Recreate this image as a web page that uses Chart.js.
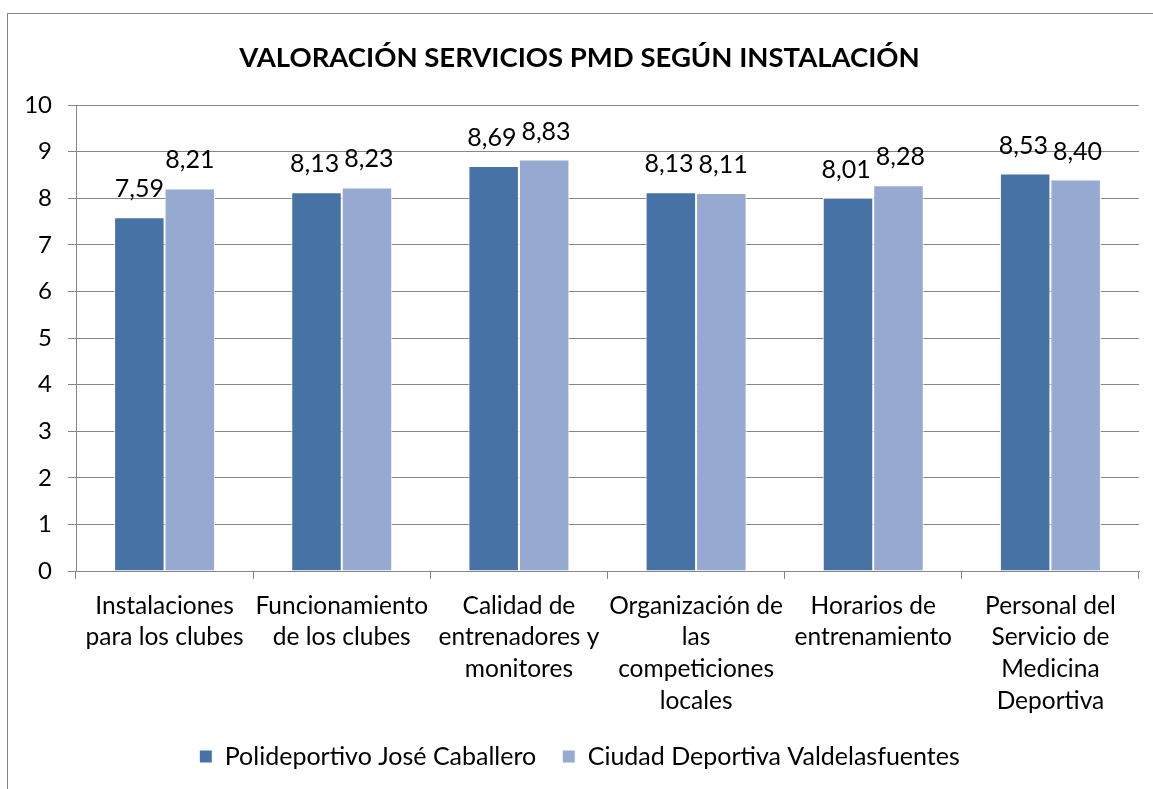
<!DOCTYPE html>
<html>
<head>
<meta charset="utf-8">
<script src="https://cdn.jsdelivr.net/npm/chart.js@4"></script>
<style>
  html, body { margin: 0; padding: 0; background: #fff; }
  #wrap { position: absolute; left: 0; top: 0; width: 1153px; height: 789px; }
</style>
</head>
<body>
<div id="wrap"><canvas id="chart" width="1153" height="789"></canvas></div>
<script>
var TITLE = 'VALORACIÓN SERVICIOS PMD SEGÚN INSTALACIÓN';
var CATEGORIES = [
  ['Instalaciones', 'para los clubes'],
  ['Funcionamiento', 'de los clubes'],
  ['Calidad de', 'entrenadores y', 'monitores'],
  ['Organización de', 'las', 'competiciones', 'locales'],
  ['Horarios de', 'entrenamiento'],
  ['Personal del', 'Servicio de', 'Medicina', 'Deportiva']
];
var SERIES_NAMES = ['Polideportivo José Caballero', 'Ciudad Deportiva Valdelasfuentes'];
var JOSE_CABALLERO = [7.59, 8.13, 8.69, 8.13, 8.01, 8.53];
var VALDELASFUENTES = [8.21, 8.23, 8.83, 8.11, 8.28, 8.40];
var Y_TICKS = [0, 1, 2, 3, 4, 5, 6, 7, 8, 9, 10];

var FONT = 'Lato, Carlito, Calibri, sans-serif';
var GRID = '#868686';
var COLORS = ['#4672A6', '#95A9D1'];

function fmt(v) {
  return v.toFixed(2).replace('.', ',');
}

// outer frame like the Excel chart area border
var framePlugin = {
  id: 'frame',
  beforeDraw: function (chart) {
    var c = chart.ctx;
    c.save();
    c.fillStyle = '#fff';
    c.fillRect(0, 0, chart.width, chart.height);
    c.strokeStyle = GRID;
    c.lineWidth = 1;
    c.strokeRect(7.5, 13.5, 1160, 800);
    c.restore();
  }
};

// value labels above each bar; the two of a pair are pushed apart if they touch
var labelPlugin = {
  id: 'valueLabels',
  afterDatasetsDraw: function (chart) {
    var c = chart.ctx;
    c.save();
    c.font = '25px ' + FONT;
    c.fillStyle = '#000';
    c.textAlign = 'center';
    c.textBaseline = 'alphabetic';
    var m0 = chart.getDatasetMeta(0).data;
    var m1 = chart.getDatasetMeta(1).data;
    var d0 = chart.data.datasets[0].data;
    var d1 = chart.data.datasets[1].data;
    m0.forEach(function (b0, i) {
      var b1 = m1[i];
      var t0 = fmt(d0[i]), t1 = fmt(d1[i]);
      var w0 = c.measureText(t0).width, w1 = c.measureText(t1).width;
      var x0 = b0.x, x1 = b1.x;
      var y0 = b0.y - 20, y1 = b1.y - 20;
      var gap = (x1 - w1 / 2) - (x0 + w0 / 2);
      if (gap < 5 && Math.abs(y0 - y1) < 20) {
        x0 -= (5 - gap) / 2;
        x1 += (5 - gap) / 2;
      }
      c.fillText(t0, x0, y0);
      c.fillText(t1, x1, y1);
    });
    c.restore();
  }
};

new Chart(document.getElementById('chart').getContext('2d'), {
  type: 'bar',
  data: {
    labels: CATEGORIES,
    datasets: [{
      label: SERIES_NAMES[0],
      data: JOSE_CABALLERO,
      backgroundColor: COLORS[0],
      borderColor: '#fff',
      borderWidth: 1,
      barPercentage: 1,
      categoryPercentage: 0.57
    }, {
      label: SERIES_NAMES[1],
      data: VALDELASFUENTES,
      backgroundColor: COLORS[1],
      borderColor: '#fff',
      borderWidth: 1,
      barPercentage: 1,
      categoryPercentage: 0.57
    }]
  },
  options: {
    responsive: false,
    animation: false,
    devicePixelRatio: 1,
    layout: { padding: { top: 0, left: 20, right: 14, bottom: 10 } },
    plugins: {
      title: {
        display: true,
        text: TITLE,
        color: '#000',
        font: { family: FONT, size: 27.5, weight: 'bold' },
        padding: { top: 42, bottom: 30 }
      },
      legend: {
        position: 'bottom',
        labels: {
          color: '#000',
          font: { family: FONT, size: 25 },
          boxWidth: 13,
          boxHeight: 13,
          padding: 26
        }
      },
      tooltip: { enabled: false }
    },
    scales: {
      x: {
        grid: { offset: true, drawOnChartArea: false, color: GRID, tickLength: 8 },
        border: { color: GRID },
        ticks: {
          color: '#000',
          font: { family: FONT, size: 24.5, lineHeight: 1.29 },
          padding: 11,
          maxRotation: 0,
          autoSkip: false
        },
        afterFit: function (scale) { scale.height = 147; }
      },
      y: {
        min: 0,
        max: 10,
        afterBuildTicks: function (scale) {
          scale.ticks = Y_TICKS.map(function (v) { return { value: v }; });
        },
        grid: { color: GRID, tickLength: 8 },
        border: { color: GRID },
        ticks: {
          color: '#000',
          font: { family: FONT, size: 24 },
          padding: 16
        },
        afterFit: function (scale) { scale.width = 56; }
      }
    }
  },
  plugins: [framePlugin, labelPlugin]
});
</script>
</body>
</html>
